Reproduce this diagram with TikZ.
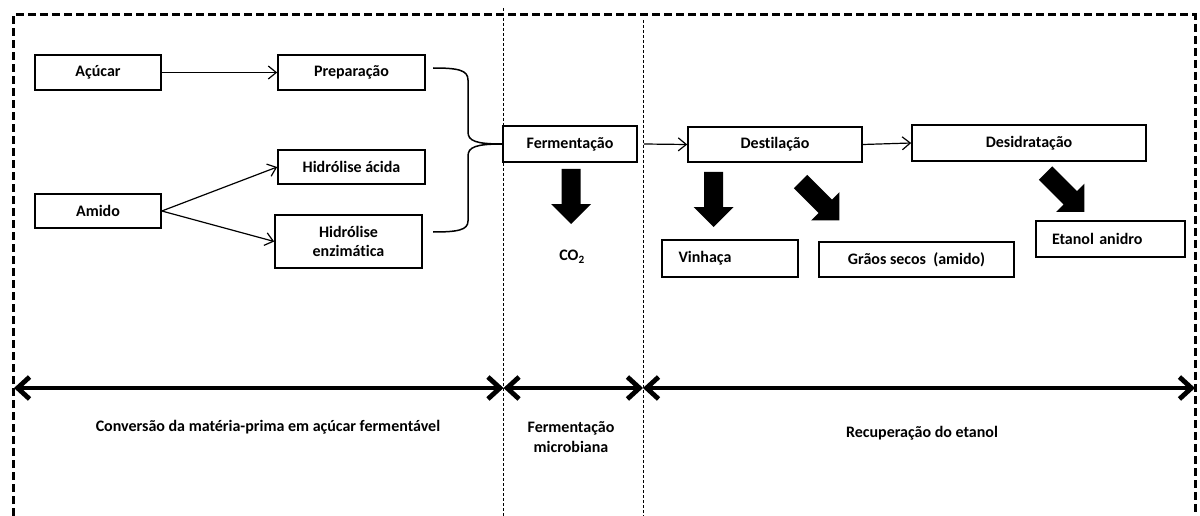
\documentclass[tikz,border=0pt]{standalone}
\usepackage{fontspec}
\setmainfont{Carlito}[Ligatures=NoCommon]
\usetikzlibrary{arrows.meta}
\begin{document}
\begin{tikzpicture}[x=1pt,y=-1pt,
 box/.style={draw, line width=1.6pt, inner sep=0pt, font=\bfseries\fontsize{16}{19}\selectfont, align=center},
 flowarrow/.style={line width=1.2pt, -{Straight Barb[length=8pt,width=13pt]}},
 spanarrow/.style={line width=4.8pt, {Straight Barb[length=12pt,width=22pt]}-{Straight Barb[length=12pt,width=22pt]}},
 lbl/.style={font=\bfseries\fontsize{16}{20}\selectfont, align=center},
 sepline/.style={line width=1pt, dash pattern=on 3pt off 2pt},
 outerframe/.style={line width=3pt, dash pattern=on 8pt off 4pt},
 bracepath/.style={line width=1.5pt},
 blockarrow/.pic={\fill (0,-9.5) -- (35,-9.5) -- (35,-20) -- (55,0) -- (35,20) -- (35,9.5) -- (0,9.5) -- cycle;}
]
\useasboundingbox (0,0) rectangle (1200,516);

% frame and separators
\draw[outerframe] (13,516) -- (13,15) -- (1195,15) -- (1195,516);
\draw[sepline] (503,8) -- (503,516);
\draw[sepline] (643,20) -- (643,516);

% boxes
\node[box, minimum width=126, minimum height=35] (acucar) at (98,72.5) {Açúcar};
\node[box, minimum width=147, minimum height=35] (prep) at (351.5,72.5) {Preparação};
\node[box, minimum width=147, minimum height=34] (hacida) at (351.5,167) {Hidrólise ácida};
\node[box, minimum width=126, minimum height=34] (amido) at (98,211) {Amido};
\node[box, minimum width=147, minimum height=53] (henz) at (348.5,241.5) {Hidrólise\\enzimática};
\node[box, minimum width=134, minimum height=36] (ferm) at (570,144) {Fermentação};
\node[box, minimum width=174, minimum height=35] (dest) at (775,144.5) {Destilação};
\node[box, minimum width=234, minimum height=36] (desid) at (1029,143) {Desidratação};
\node[box, minimum width=136, minimum height=37, text width=103, align=left] (vinh) at (730,258.5) {Vinhaça};
\node[box, minimum width=195, minimum height=35] (graos) at (916.5,259.5) {Grãos secos~~(amido)};
\node[box, minimum width=149, minimum height=36, text width=117, align=left] (etanol) at (1110.5,239) {Etanol anidro};
\node[lbl] (co2) at (572,257) {CO\textsubscript{2}};

% flow arrows
\draw[flowarrow] (acucar.east) -- (prep.west);
\draw[flowarrow] (amido.east) -- (hacida.west);
\draw[flowarrow] (amido.east) -- (henz.west);
\draw[flowarrow] ([xshift=6pt]ferm.east) -- (dest.west);
\draw[flowarrow] (dest.east) -- (desid.west);

% brace
\coordinate (bt) at (433,68);
\coordinate (bb) at (433,232);
\draw[bracepath] (bt) .. controls (458,68) and (468,70) .. (468,80) -- (468,132)
  .. controls (468,141) and (476,144) .. (ferm.west);
\draw[bracepath] (ferm.west) .. controls (476,144) and (468,147) .. (468,156) -- (468,221)
  .. controls (468,230) and (458,232) .. (bb);

% block arrows
\pic[rotate=-90] at (571,169) {blockarrow};
\pic[rotate=-90] at (713.5,172) {blockarrow};
\pic[rotate=-45] at (800.5,181.5) {blockarrow};
\pic[rotate=-45] at (1045.5,173) {blockarrow};

% phase spans
\coordinate (s0) at (14,388);
\coordinate (s1) at (503.5,388);
\coordinate (s2) at (643,388);
\coordinate (s3) at (1195,388);
\draw[spanarrow] (s0) -- (s1);
\draw[spanarrow] (s1) -- (s2);
\draw[spanarrow] (s2) -- (s3);

\node[lbl] (l1) at (268,427) {Conversão da matéria-prima em açúcar fermentável};
\node[lbl] (l2) at (571,437) {Fermentação\\microbiana};
\node[lbl] (l3) at (922,433) {Recuperação do etanol};
\end{tikzpicture}
\end{document}
